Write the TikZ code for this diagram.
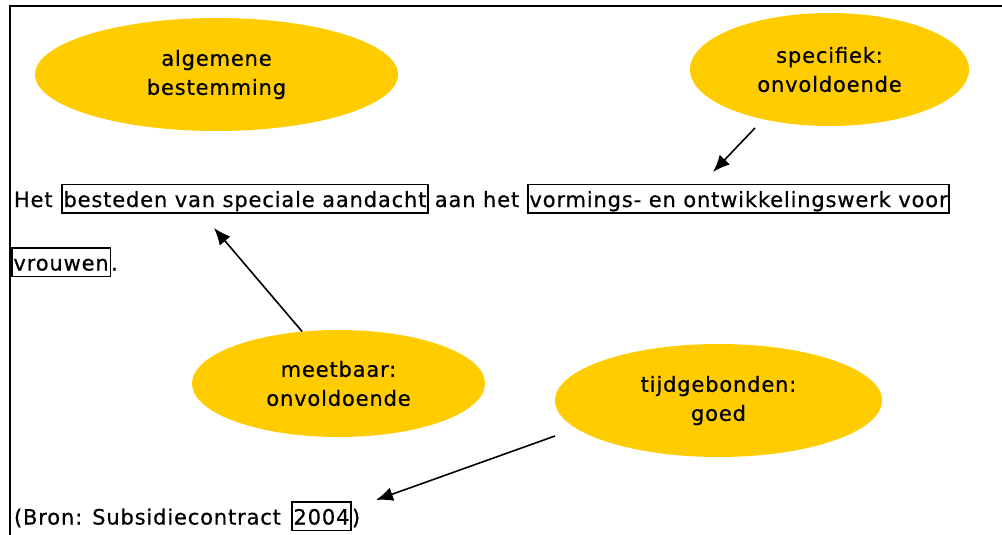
\documentclass[tikz,border=0pt]{standalone}
\usepackage{fontspec}
\setmainfont{DejaVu Sans}[LetterSpace=4,FakeBold=0.6]
\usetikzlibrary{arrows.meta,shapes.geometric}
\definecolor{goldy}{HTML}{FFCC00}
\tikzset{
  bubble/.style={ellipse, fill=goldy, inner sep=0pt, align=center, font=\fontsize{21}{29}\selectfont},
  txt/.style={inner sep=0pt, outer sep=0pt, font=\fontsize{21}{24}\selectfont, anchor=base west},
  boxed/.style={txt, draw, line width=1.4pt, inner xsep=1.5pt, inner ysep=1.5pt, text height=21pt, text depth=4.5pt},
  conn/.style={line width=1.6pt, -{Latex[length=17pt,width=14pt]}},
  frame/.style={line width=2pt}
}
\begin{document}
\begin{tikzpicture}[x=1pt,y=-1pt]
\useasboundingbox (0,0) rectangle (1002,535);
\draw[frame] (10,535) -- (10,6) -- (1002,6);

\node[bubble, minimum width=363pt, minimum height=113pt] (alg) at (216.5,74.5) {algemene\\bestemming};
\node[bubble, minimum width=279pt, minimum height=113pt] (spec) at (829.5,69.5) {specifiek:\\onvoldoende};
\node[bubble, minimum width=293pt, minimum height=107pt] (meet) at (338.5,383.5) {meetbaar:\\onvoldoende};
\node[bubble, minimum width=327pt, minimum height=113pt] (tijd) at (718.5,400.5) {tijdgebonden:\\goed};

\node[txt] (het) at (14,207) {Het};
\node[boxed] (b1) at (62,207) {besteden van speciale aandacht};
\node[txt, anchor=base] (aan) at (477,207) {aan het};
\node[boxed] (b2) at (528,207) {vormings- en ontwikkelingswerk voor};
\node[boxed] (vr) at (12,270.5) {vrouwen};
\node[txt] (dot) at ([xshift=1pt]vr.base east) {.};
\node[txt] (bron) at (14,524.5) {(Bron: Subsidiecontract};
\node[boxed] (jaar) at (292,524.5) {2004};
\node[txt] (par) at ([xshift=1pt]jaar.base east) {)};

\coordinate (s1) at (755,128);
\coordinate (t1) at (713,172);
\coordinate (t2) at (214,228);
\coordinate (s3) at (555,436);
\coordinate (t3) at (376,500);
\draw[conn] (s1) -- (t1);
\draw[conn] (meet.125) -- (t2);
\draw[conn] (s3) -- (t3);
\end{tikzpicture}
\end{document}
